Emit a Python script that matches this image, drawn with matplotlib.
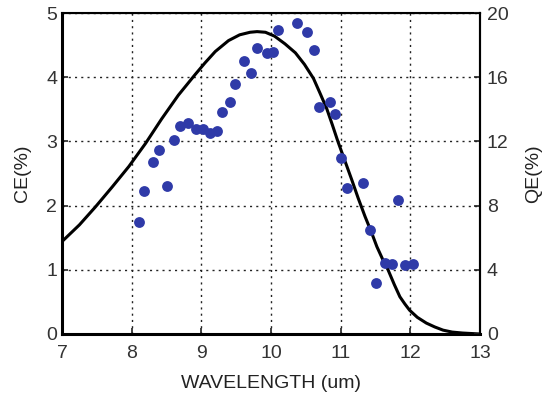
import matplotlib
matplotlib.use("Agg")
import matplotlib.pyplot as plt

# measured CE points (wavelength in um, CE in %)
wl_pts = [8.10, 8.17, 8.50, 8.30, 8.39, 8.61, 8.69, 8.81, 8.92, 9.03, 9.12, 9.22,
          9.29, 9.41, 9.48, 9.61, 9.71, 9.80, 9.94, 10.03, 10.10, 10.38, 10.52,
          10.62, 10.69, 10.84, 10.92, 11.00, 11.09, 11.32, 11.42, 11.51, 11.63,
          11.73, 11.83, 11.92, 12.04]
ce_pts = [1.75, 2.23, 2.30, 2.68, 2.87, 3.02, 3.24, 3.28, 3.19, 3.19, 3.13, 3.16,
          3.46, 3.61, 3.89, 4.25, 4.07, 4.45, 4.37, 4.40, 4.74, 4.84, 4.70,
          4.43, 3.54, 3.62, 3.43, 2.74, 2.27, 2.35, 1.62, 0.79, 1.11,
          1.09, 2.08, 1.07, 1.09]

# QE curve (plotted on the CE scale)
wl_curve = [7.0, 7.25, 7.48, 7.72, 7.96, 8.20, 8.43, 8.67, 8.91, 9.05, 9.20,
            9.39, 9.55, 9.70, 9.80, 9.92, 10.05, 10.20, 10.35, 10.48, 10.61,
            10.70, 10.80, 10.88, 10.96, 11.06, 11.16, 11.25, 11.35, 11.44,
            11.52, 11.60, 11.68, 11.77, 11.85, 11.92, 11.99, 12.10, 12.23,
            12.35, 12.47, 12.60, 12.75, 13.0]
ce_curve = [1.44, 1.70, 1.98, 2.29, 2.61, 2.97, 3.35, 3.72, 4.04, 4.22, 4.40,
            4.57, 4.66, 4.70, 4.71, 4.70, 4.64, 4.52, 4.38, 4.20, 3.98,
            3.76, 3.51, 3.26, 3.00, 2.70, 2.40, 2.12, 1.83, 1.59,
            1.36, 1.17, 1.00, 0.77, 0.58, 0.47, 0.37, 0.26, 0.17,
            0.11, 0.06, 0.03, 0.015, 0.0]

x_ticks = [7, 8, 9, 10, 11, 12, 13]
ce_ticks = [0, 1, 2, 3, 4, 5]
qe_ticks = [0, 4, 8, 12, 16, 20]

font = ["Liberation Sans", "DejaVu Sans"]

fig = plt.figure(figsize=(5.42, 4.0), dpi=100)
ax = fig.add_axes([0.1144, 0.165, 0.7712, 0.8025])

ax.plot(wl_curve, ce_curve, color="black", lw=2.2, zorder=3)
ax.plot(wl_pts, ce_pts, "o", color="#2f3aa8", ms=7.8, mec="none", zorder=4)

ax.set_xlim(7, 13)
ax.set_ylim(0, 5)
ax.set_xticks(x_ticks)
ax.set_yticks(ce_ticks)
ax.set_xticklabels([str(t) for t in x_ticks], family=font, fontsize=14, color="#333")
ax.set_yticklabels([str(t) for t in ce_ticks], family=font, fontsize=14, color="#333")
ax.tick_params(axis="both", direction="in", length=4, width=1.2, color="#222")
ax.tick_params(axis="x", pad=8)
ax.tick_params(axis="y", pad=3.5)
ax.grid(True, color="#222", lw=1.0, linestyle=(0, (1.5, 3)))

for side in ["left", "bottom"]:
    ax.spines[side].set_linewidth(2.2)
for side in ["top", "right"]:
    ax.spines[side].set_linewidth(1.5)

ax.set_xlabel("WAVELENGTH (um)", family=font, fontsize=14, color="#222", labelpad=9)
ax.set_ylabel("CE(%)", family=font, fontsize=14, color="#222", labelpad=11)

ax2 = ax.twinx()
ax2.set_ylim(0, 20)
ax2.set_yticks(qe_ticks)
ax2.set_yticklabels([str(t) for t in qe_ticks], family=font, fontsize=14, color="#333")
ax2.tick_params(axis="y", direction="in", length=4, width=1.2, color="#222", pad=5)
ax2.spines["right"].set_linewidth(1.5)
ax2.set_ylabel("QE(%)", family=font, fontsize=14, color="#222", labelpad=12)

fig.savefig("out.png", dpi=100)
